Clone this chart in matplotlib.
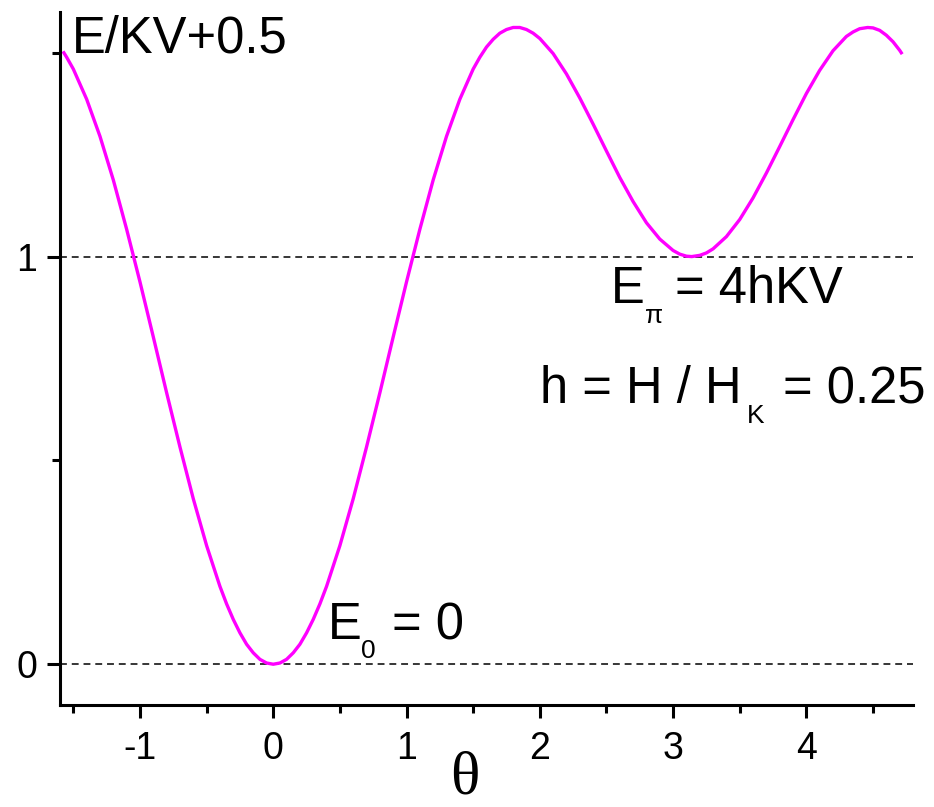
import matplotlib
matplotlib.use("Agg")
import matplotlib.pyplot as plt

plt.rcParams['font.family'] = ['Liberation Sans', 'DejaVu Sans']

# angle theta (rad) and reduced energy E/KV
theta = [-1.571, -1.55, -1.5, -1.4, -1.3, -1.2, -1.1, -1.0, -0.9, -0.8,
         -0.7, -0.6, -0.5, -0.4, -0.35, -0.3, -0.25, -0.2, -0.15, -0.1,
         -0.05, 0.0, 0.05, 0.1, 0.15, 0.2, 0.25, 0.3, 0.35, 0.4, 0.5, 0.6,
         0.7, 0.8, 0.9, 1.0, 1.1, 1.2, 1.3, 1.4, 1.5, 1.55, 1.6, 1.65, 1.7,
         1.75, 1.8, 1.82, 1.85, 1.9, 1.95, 2.0, 2.1, 2.2, 2.3, 2.4, 2.5,
         2.6, 2.7, 2.8, 2.9, 3.0, 3.05, 3.1, 3.14, 3.2, 3.25, 3.3, 3.4,
         3.5, 3.6, 3.7, 3.8, 3.9, 4.0, 4.1, 4.2, 4.3, 4.35, 4.4, 4.46,
         4.5, 4.55, 4.6, 4.65, 4.7, 4.712]
energy = [1.500, 1.489, 1.460, 1.386, 1.295, 1.188, 1.067, 0.938, 0.803,
          0.666, 0.533, 0.406, 0.291, 0.191, 0.148, 0.110, 0.077, 0.049,
          0.028, 0.012, 0.003, 0.000, 0.003, 0.012, 0.028, 0.049, 0.077,
          0.110, 0.148, 0.191, 0.291, 0.406, 0.533, 0.666, 0.803, 0.938,
          1.067, 1.188, 1.295, 1.386, 1.460, 1.489, 1.514, 1.533, 1.548,
          1.557, 1.562, 1.562, 1.562, 1.557, 1.548, 1.535, 1.498, 1.448,
          1.389, 1.325, 1.259, 1.194, 1.135, 1.083, 1.043, 1.015, 1.006,
          1.001, 1.000, 1.003, 1.009, 1.019, 1.049, 1.091, 1.144, 1.205,
          1.270, 1.336, 1.400, 1.457, 1.505, 1.540, 1.551, 1.559, 1.562,
          1.561, 1.555, 1.543, 1.527, 1.506, 1.500]

levels = [0, 1]          # E_0 and E_pi reference levels
x_major = [-1, 0, 1, 2, 3, 4]
x_minor = [-1.5, -0.5, 0.5, 1.5, 2.5, 3.5, 4.5]
y_major = [0, 1]
y_minor = [0.5, 1.5]

fig = plt.figure(figsize=(9.34, 8.07), dpi=100)
ax = fig.add_axes([60 / 934, 102 / 807, 853 / 934, 693 / 807])

ax.set_xlim(-1.6, 4.8)
ax.set_ylim(-0.1, 1.6)

for lev in levels:
    ax.axhline(lev, color='black', lw=1.1, linestyle=(0, (4.5, 3.2)))

ax.plot(theta, energy, color='#ff00ff', lw=2.4, solid_joinstyle='round',
        clip_on=False)

for side in ['top', 'right']:
    ax.spines[side].set_visible(False)
for side in ['left', 'bottom']:
    ax.spines[side].set_linewidth(2.2)

ax.set_xticks(x_major)
ax.set_xticks(x_minor, minor=True)
ax.set_xticklabels(['-1', '0', '1', '2', '3', '4'])
ax.set_yticks(y_major)
ax.set_yticks(y_minor, minor=True)
ax.set_yticklabels(['0', '1'])
ax.tick_params(which='major', direction='out', length=9.5, width=2.2,
               labelsize=27)
ax.tick_params(which='minor', direction='out', length=5.8, width=2.2)
ax.tick_params(axis='x', which='major', pad=9)
ax.tick_params(axis='y', which='major', pad=7)

# axis titles
ax.text(-1.51, 1.5, 'E/KV+0.5', fontsize=36.5, va='baseline', ha='left')
fig.text(465 / 934, 1 / 807, '\u03b8', fontsize=44, ha='center',
         va='bottom', family=['Liberation Serif', 'DejaVu Serif'])

# level annotations
big = 36.5
small = 19
ax.text(2.533, 0.885, 'E', fontsize=big, va='baseline')
ax.text(2.79, 0.838, '\u03c0', fontsize=small, va='baseline')
ax.text(3.014, 0.885, '= 4hKV', fontsize=big, va='baseline')

ax.text(2.0, 0.640, 'h = H / H', fontsize=big, va='baseline')
ax.text(3.55, 0.593, 'K', fontsize=small, va='baseline')
ax.text(3.825, 0.640, '= 0.25', fontsize=big, va='baseline')

ax.text(0.41, 0.061, 'E', fontsize=big, va='baseline')
ax.text(0.655, 0.0147, '0', fontsize=small, va='baseline')
ax.text(0.893, 0.061, '= 0', fontsize=big, va='baseline')

fig.savefig('out.png', dpi=100)
